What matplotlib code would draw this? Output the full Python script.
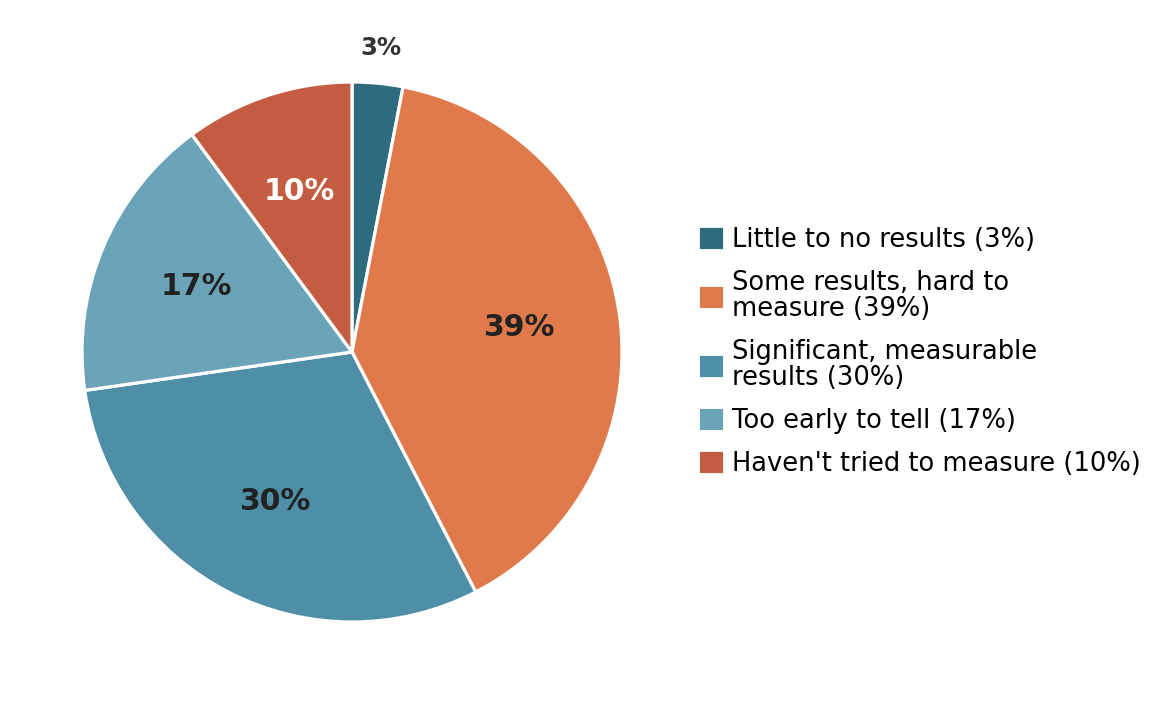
import matplotlib
matplotlib.use("Agg")
import matplotlib.pyplot as plt
from matplotlib.patches import Patch
import numpy as np

labels = ["Little to no results (3%)", "Some results, hard to\nmeasure (39%)",
          "Significant, measurable\nresults (30%)", "Too early to tell (17%)",
          "Haven't tried to measure (10%)"]
values = [3, 39, 30, 17, 10]
pct_labels = ["3%", "39%", "30%", "17%", "10%"]
colors = ["#2f6b7f", "#e07a4b", "#4e8fa7", "#6ba4b8", "#c35c41"]

W, H = 1151, 706
fig = plt.figure(figsize=(W / 100, H / 100), dpi=100)
cx, cy, r = 352, 352, 270
ax = fig.add_axes([(cx - r) / W, (H - cy - r) / H, 2 * r / W, 2 * r / H])

wedges, _ = ax.pie(values, colors=colors, startangle=90, counterclock=False,
                   radius=1, wedgeprops=dict(edgecolor="white", linewidth=2.3))
ax.set_xlim(-1, 1)
ax.set_ylim(-1, 1)
ax.set_aspect("equal")
ax.axis("off")

total = sum(values)
start = 90.0
for i, (v, lab) in enumerate(zip(values, pct_labels)):
    ang = start - v / total * 360 / 2
    start -= v / total * 360
    rad = np.deg2rad(ang)
    if i == 0:
        d = 1.13
        ax.text(d * np.cos(rad), d * np.sin(rad), lab, ha="center", va="center",
                fontsize=17.5, fontweight="bold", color="#333333")
    else:
        d = 0.625
        col = "white" if i == 4 else "#222222"
        ax.text(d * np.cos(rad), d * np.sin(rad), lab, ha="center", va="center",
                fontsize=21.5, fontweight="bold", color=col)

handles = [Patch(facecolor=c, edgecolor="white", linewidth=0.6) for c in colors]
leg = fig.legend(handles, labels, loc="center left",
                 bbox_to_anchor=(699 / W, (H - 352) / H), frameon=False,
                 fontsize=18.5, handlelength=0.95, handleheight=0.95,
                 handletextpad=0.35, labelspacing=0.66, borderpad=0, borderaxespad=0)
for t in leg.get_texts():
    t.set_linespacing(1.0)

fig.savefig("out.png", dpi=100)
